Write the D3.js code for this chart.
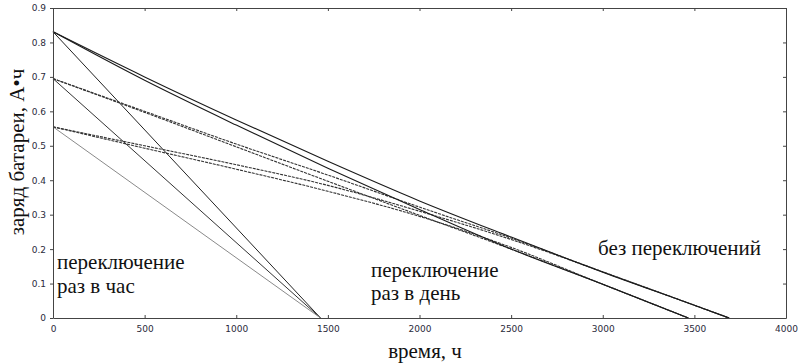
<!DOCTYPE html>
<html>
<head>
<meta charset="utf-8">
<script src="https://cdn.jsdelivr.net/npm/d3@7"></script>
<style>
  body { margin: 0; background: #fff; }
  .tick text { font-family: "DejaVu Sans", sans-serif; font-size: 9px; fill: #2a2a3a; }
</style>
</head>
<body>
<div id="chart"></div>
<script>
// axis ticks
const timeTicks = [0, 500, 1000, 1500, 2000, 2500, 3000, 3500, 4000]
const chargeTicks = [0, 0.1, 0.2, 0.3, 0.4, 0.5, 0.6, 0.7, 0.8, 0.9]

// switching once per hour: straight discharge to the same end time
const hourlyStarts = [0.831, 0.695, 0.555]
const hourlyEnd = 1460
const hourlyColors = ["#222", "#333", "#8a8a8a"]

// no switching (solid), hours -> charge
const noSwitchLong = [[0, 0.831], [500, 0.70], [1000, 0.575], [1500, 0.455], [2000, 0.34], [2500, 0.235], [3000, 0.133], [3500, 0.037], [3690, 0]]
const noSwitchShort = [[0, 0.831], [500, 0.69], [1000, 0.56], [1500, 0.435], [2000, 0.315], [2500, 0.20], [3000, 0.098], [3467, 0]]

// switching once per day (dashed)
const dailyHighLong = [[0, 0.695], [500, 0.60], [1000, 0.505], [1500, 0.415], [2000, 0.322], [2500, 0.232], [3000, 0.134], [3500, 0.037], [3690, 0]]
const dailyHighShort = [[0, 0.695], [500, 0.597], [1000, 0.497], [1500, 0.397], [2000, 0.298], [2500, 0.20], [3000, 0.098], [3467, 0]]
const dailyLowLong = [[0, 0.555], [500, 0.50], [1000, 0.445], [1500, 0.385], [2000, 0.31], [2500, 0.228], [3000, 0.134], [3500, 0.037], [3690, 0]]
const dailyLowShort = [[0, 0.555], [500, 0.493], [1000, 0.432], [1500, 0.368], [2000, 0.295], [2500, 0.205], [3000, 0.098], [3467, 0]]

const margin = { top: 8, right: 12, bottom: 45, left: 53 },
    width = 798 - margin.left - margin.right,
    height = 363 - margin.top - margin.bottom

const x = d3.scaleLinear().domain([0, 4000]).range([0, width])
const y = d3.scaleLinear().domain([0, 0.9]).range([height, 0])

const svg = d3.select("#chart").append("svg")
    .attr("width", 798)
    .attr("height", 363)

const g = svg.append("g")
    .attr("transform", "translate(" + margin.left + "," + margin.top + ")")

const line = d3.line()
    .x(d => x(d[0]))
    .y(d => y(d[1]))
    .curve(d3.curveMonotoneX)

// hourly switching lines
hourlyStarts.forEach((q, i) => {
    g.append("path")
        .datum([[0, q], [hourlyEnd, 0]])
        .attr("d", line)
        .attr("fill", "none")
        .attr("stroke", hourlyColors[i])
        .attr("stroke-width", 1)
})

// daily switching lines
;[dailyHighLong, dailyHighShort, dailyLowLong, dailyLowShort].forEach(s => {
    g.append("path")
        .datum(s)
        .attr("d", line)
        .attr("fill", "none")
        .attr("stroke", "#333")
        .attr("stroke-width", 1.1)
        .attr("stroke-dasharray", "3,1")
})

// no switching
;[noSwitchLong, noSwitchShort].forEach(s => {
    g.append("path")
        .datum(s)
        .attr("d", line)
        .attr("fill", "none")
        .attr("stroke", "#1a1a1a")
        .attr("stroke-width", 1.1)
})

// axes: left ticks outside, others inside
const fmt = d => d === 0 ? "0" : d3.format(".1f")(d)
const styleAxis = a => {
    a.select(".domain").attr("stroke", "#444")
    a.selectAll(".tick line").attr("stroke", "#444")
}
g.append("g")
    .attr("transform", "translate(0," + height + ")")
    .call(d3.axisBottom(x).tickValues(timeTicks).tickSize(-3).tickSizeOuter(0).tickPadding(8).tickFormat(d3.format("d")))
    .call(styleAxis)
g.append("g")
    .call(d3.axisTop(x).tickValues(timeTicks).tickSize(-3).tickSizeOuter(0).tickFormat(""))
    .call(styleAxis)
g.append("g")
    .call(d3.axisLeft(y).tickValues(chargeTicks).tickSize(3).tickSizeOuter(0).tickPadding(4).tickFormat(fmt))
    .call(styleAxis)
g.append("g")
    .attr("transform", "translate(" + width + ",0)")
    .call(d3.axisRight(y).tickValues(chargeTicks).tickSize(-3).tickSizeOuter(0).tickFormat(""))
    .call(styleAxis)

const serif = "'Liberation Serif', 'DejaVu Serif', serif"

// axis titles
svg.append("text")
    .attr("transform", "translate(24,152) rotate(-90)")
    .attr("text-anchor", "middle")
    .attr("font-family", serif)
    .attr("font-size", 21)
    .attr("fill", "#111")
    .text("заряд батареи, А•ч")
svg.append("text")
    .attr("x", 425)
    .attr("y", 358)
    .attr("text-anchor", "middle")
    .attr("font-family", serif)
    .attr("font-size", 21)
    .attr("fill", "#111")
    .text("время, ч")

// annotations
const notes = [
    { x: 57, y: 269, text: "переключение" },
    { x: 57, y: 293, text: "раз в час" },
    { x: 371, y: 277, text: "переключение" },
    { x: 371, y: 300, text: "раз в день" },
    { x: 598, y: 255, text: "без переключений" }
]
notes.forEach(n => {
    svg.append("text")
        .attr("x", n.x)
        .attr("y", n.y)
        .attr("font-family", serif)
        .attr("font-size", 21)
        .attr("fill", "#111")
        .text(n.text)
})
</script>
</body>
</html>
